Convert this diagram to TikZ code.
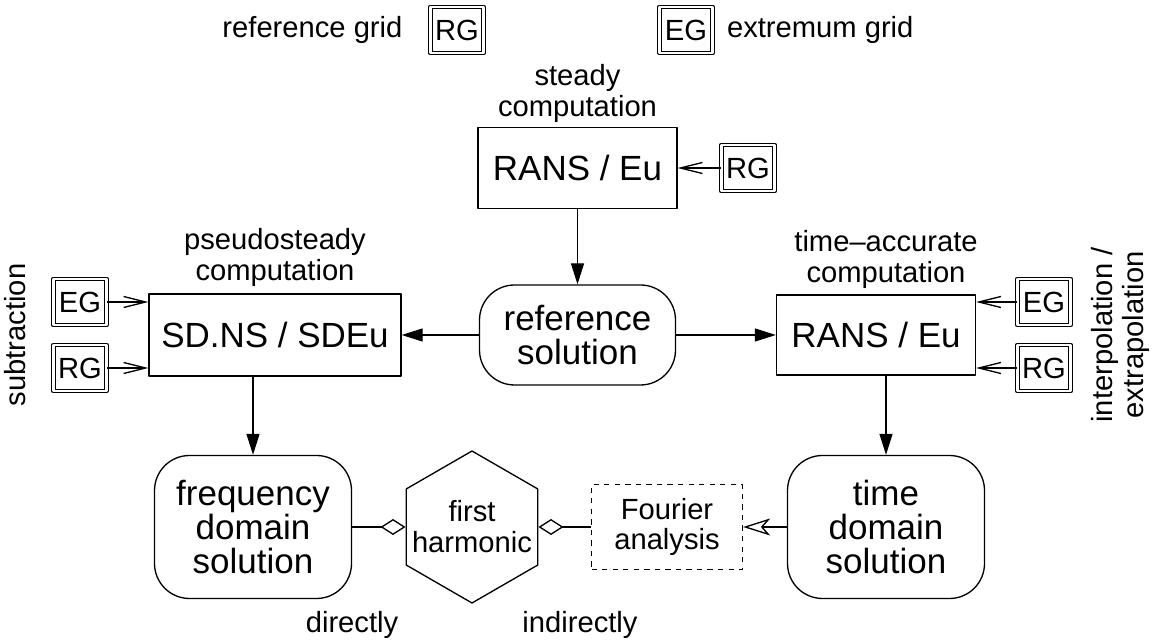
\documentclass[tikz,border=0pt]{standalone}
\usepackage{fontspec}
\setmainfont{Liberation Sans}
\usetikzlibrary{positioning,shapes.geometric,arrows.meta}
\newcommand{\smallsz}{\fontsize{16.6}{17.6}\selectfont}
\newcommand{\bigsz}{\fontsize{19.9}{19.4}\selectfont}
\begin{document}
\begin{tikzpicture}[line join=round,line width=0.75pt,>={Triangle[length=0.42cm,width=0.26cm]}]
\tikzset{every node/.style={font=\smallsz,align=center},
  solver/.style={draw,font=\bigsz,minimum width=3.98cm,minimum height=1.62cm,inner sep=0},
  solution/.style={draw,rounded corners=0.7cm,font=\bigsz,minimum width=3.94cm,minimum height=2.86cm,inner sep=0},
  gridbox/.style={draw,double,double distance=1.6pt,line width=0.6pt,minimum width=1.06cm,minimum height=0.92cm,inner sep=0},
  barb/.style={-{Straight Barb[length=0.44cm,width=0.22cm]}},
  hollow/.style={-{Stealth[open,length=0.54cm,width=0.34cm,inset=0.15cm]}},
  harm/.style={-{Diamond[open,length=0.5cm,width=0.32cm]}}}
\useasboundingbox (0,0) rectangle (23.16,12.8);
\node[gridbox] (rgkey) at (9.14,12.2) {RG};
\node[left=0.42cm of rgkey] (rgtext) {reference grid};
\node[gridbox] (egkey) at (13.72,12.2) {EG};
\node[right=0.15cm of egkey] (egtext) {extremum grid};
\node[solver] (steady) at (11.55,9.44) {RANS / Eu};
\node[above=-0.05cm of steady] (steadytext) {steady\\computation};
\node[gridbox] (rgsteady) at (14.96,9.44) {RG};
\node[solution,minimum width=3.92cm,minimum height=2cm] (ref) at (11.55,6.1) {reference\\solution};
\node[solver,minimum width=5.04cm,minimum height=1.64cm] (pseudo) at (5.5,6.1) {SD.NS / SDEu};
\node[above=0cm of pseudo] (pseudotext) {pseudosteady\\computation};
\node[solver,minimum height=1.6cm] (unsteady) at (17.52,6.1) {RANS / Eu};
\node[anchor=south] (unsteadytext) at (17.72,6.9) {time--accurate\\computation};
\node[gridbox] (egsub) at (1.6,6.76) {EG};
\node[gridbox] (rgsub) at (1.6,5.44) {RG};
\node[gridbox] (egint) at (20.88,6.76) {EG};
\node[gridbox] (rgint) at (20.88,5.44) {RG};
\node[rotate=90] (subtext) at (0.3,6.1) {subtraction};
\node[rotate=90] (inttext) at (22.4,6.1) {interpolation /\\extrapolation};
\node[solution] (freq) at (5.06,2.26) {frequency\\domain\\solution};
\node[solution] (time) at (17.72,2.26) {time\\domain\\solution};
\node[draw,regular polygon,regular polygon sides=6,shape border rotate=90,minimum size=3.04cm,inner sep=0,
  label={center:first\\harmonic}] (harmonic) at (9.44,2.26) {};
\node[draw,dashed,minimum width=3.02cm,minimum height=1.7cm] (fourier) at (13.34,2.26) {Fourier\\analysis};
\node (directly) at (7.04,0.3) {directly};
\node (indirectly) at (11.6,0.3) {indirectly};
\draw[barb] (rgsteady) -- (steady);
\draw[->] (steady) -- (ref);
\draw[->] (ref) -- (pseudo);
\draw[->] (ref) -- (unsteady);
\foreach \g in {egsub,rgsub}
  \draw[barb] (\g) -- (\g -| pseudo.west);
\foreach \g in {egint,rgint}
  \draw[barb] (\g) -- (\g -| unsteady.east);
\draw[->] (pseudo.south -| freq) -- (freq);
\draw[->] (unsteady.south -| time) -- (time);
\draw[harm] (freq) -- (harmonic);
\draw[harm] (fourier) -- (harmonic);
\draw[hollow] (time) -- (fourier);
\end{tikzpicture}
\end{document}
